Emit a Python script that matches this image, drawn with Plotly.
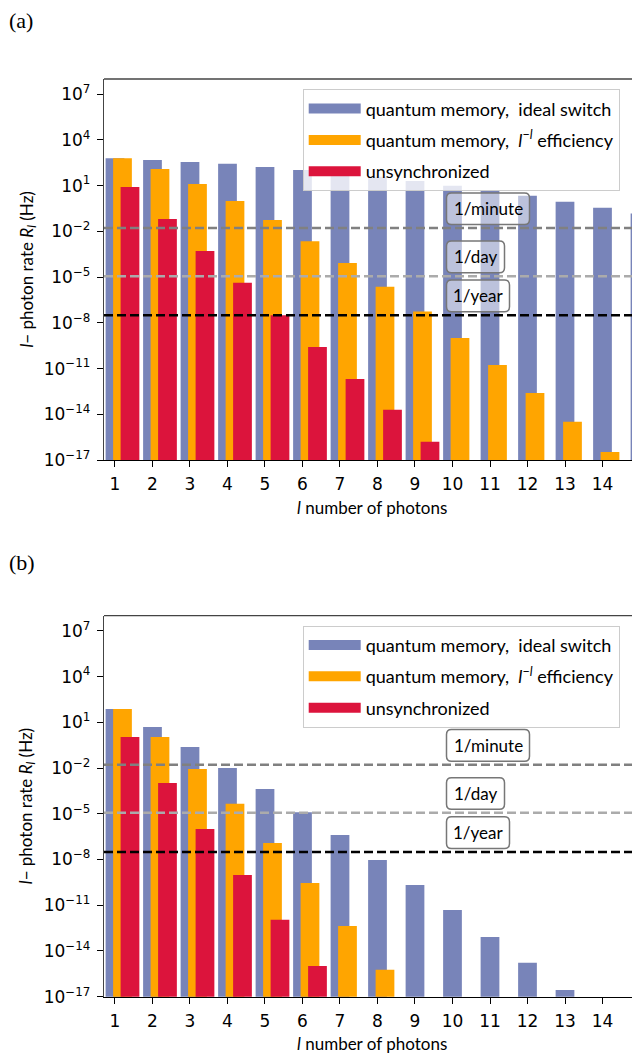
import numpy as np
import plotly.graph_objects as go

# ---------------- data ----------------
photons = list(range(1, 16))
tick_photons = list(range(1, 15))

# panel (a): l-photon rate R_l in Hz
ideal_a = [6.3e2, 4.9e2, 3.6e2, 2.7e2, 1.7e2, 1.07e2, 5.9e1, 3.9e1, 2.0e1, 1.0e1,
           4.7e0, 2.2e0, 8.9e-1, 3.6e-1, 1.5e-1]
eff_a = [6.3e2, 1.26e2, 1.29e1, 1.0e0, 5.6e-2, 2.3e-3, 8.5e-5, 2.3e-6, 5.5e-8, 1.0e-9,
         1.7e-11, 2.5e-13, 3.2e-15, 3.4e-17]
unsync_a = [8.3e0, 6.6e-2, 5.2e-4, 4.2e-6, 3.2e-8, 2.6e-10, 2.1e-12, 1.95e-14, 1.55e-16]

# panel (b)
ideal_b = [7.6e1, 5.0e0, 2.45e-1, 1.02e-2, 4.3e-4, 1.26e-5, 4.1e-7, 9.3e-9, 2.1e-10,
           4.9e-12, 8.3e-14, 1.66e-15, 2.75e-17]
eff_b = [7.6e1, 1.1e0, 8.7e-3, 4.5e-5, 1.23e-7, 2.9e-10, 4.4e-13, 5.8e-16]
unsync_b = [1.1e0, 1.07e-3, 1.02e-6, 9.8e-10, 1.1e-12, 1.05e-15]

# reference rates
ref_names = ["1/minute", "1/day", "1/year"]
ref_rates = [1 / 60, 1 / 86400, 1 / (365 * 86400)]
ref_colors = ["#808080", "#ababab", "#000000"]
ref_box_widths = [83, 58, 63]   # label box widths in px

series_names = ["quantum memory,&nbsp;&nbsp;ideal switch",
                "quantum memory,&nbsp;&nbsp;<i>l</i><sup>−<i>l</i></sup> efficiency",
                "unsynchronized"]
series_colors = ["#7884B9", "#FFA500", "#DC143C"]
series_offsets = [-0.25, -0.05, 0.15]

y_exps = list(range(-17, 8, 3))
YRANGE = [-17, 8]

# ---------------- figure ----------------
# the page body has an 8px margin, so the figure is drawn 8px right/down
OFF = 8
W, H = 640 - OFF, 1053 - OFF


def px_x(p):
    return (p - OFF) / W


def px_y(p):
    return 1 - (p - OFF) / H


def rounded_box(x0, y0, x1, y1, r):
    return (f"M{x0 + r},{y0} H{x1 - r} Q{x1},{y0} {x1},{y0 + r} "
            f"V{y1 - r} Q{x1},{y1} {x1 - r},{y1} H{x0 + r} "
            f"Q{x0},{y1} {x0},{y1 - r} V{y0 + r} Q{x0},{y0} {x0 + r},{y0} Z")


XRANGE = [0.707, 15.0]
fig = go.Figure()

panels = [
    ("x", "y", "legend", [ideal_a, eff_a, unsync_a]),
    ("x2", "y2", "legend2", [ideal_b, eff_b, unsync_b]),
]

for xref, yref, leg, series in panels:
    for i, vals in enumerate(series):
        fig.add_trace(go.Bar(
            x=photons[:len(vals)], y=vals, width=0.5, offset=series_offsets[i],
            marker=dict(color=series_colors[i], line=dict(width=0)),
            name=series_names[i], xaxis=xref, yaxis=yref, showlegend=False,
            legendgroup=f"{leg}{i}",
        ))
    for name, rate, col in zip(ref_names, ref_rates, ref_colors):
        fig.add_trace(go.Scatter(
            x=XRANGE, y=[rate, rate], mode="lines",
            line=dict(color=col, width=2.5, dash="9px,4px"),
            showlegend=False, hoverinfo="skip", xaxis=xref, yaxis=yref,
        ))
    # legend entries (wide rectangular swatches)
    for i in range(3):
        fig.add_trace(go.Scatter(
            x=[None], y=[None], mode="lines", name=series_names[i],
            line=dict(color=series_colors[i], width=13),
            xaxis=xref, yaxis=yref, legend=leg, legendgroup=f"{leg}{i}",
            hoverinfo="skip",
        ))

tickfont = dict(family="DejaVu Sans", size=17, color="black")
labfont = dict(family="Lato", size=17, color="black")
legfont = dict(family="Lato", size=18, color="black")

domains_y = [[px_y(460), px_y(79)], [px_y(996.7), px_y(615.7)]]

common_x = dict(
    range=XRANGE, tickmode="array", tickvals=tick_photons,
    ticktext=[str(v) for v in tick_photons], ticks="outside", ticklen=6,
    tickwidth=1, tickcolor="black", showline=True, linecolor="black",
    linewidth=1, showgrid=False, zeroline=False, tickfont=tickfont,
    ticklabelstandoff=3, domain=[px_x(104), 1.0],
)
common_y = dict(
    type="log", range=YRANGE, tickmode="array",
    tickvals=[10.0 ** e for e in y_exps],
    ticktext=[f"10<sup>{str(e).replace('-', '−')}</sup>" for e in y_exps],
    ticks="outside", ticklen=6, tickwidth=1, tickcolor="black",
    showline=True, linecolor="#444444", linewidth=1.3, showgrid=False,
    zeroline=False, tickfont=tickfont, ticklabelstandoff=3,
)

fig.update_layout(
    width=W, height=H,
    margin=dict(l=0, r=0, t=0, b=0, autoexpand=False),
    plot_bgcolor="white", paper_bgcolor="white", barmode="overlay",
    xaxis=dict(common_x, anchor="y"),
    yaxis=dict(common_y, anchor="x", domain=domains_y[0]),
    xaxis2=dict(common_x, anchor="y2"),
    yaxis2=dict(common_y, anchor="x2", domain=domains_y[1]),
)

legend_tops = [89.3, 625.7]
for leg, top in zip(["legend", "legend2"], legend_tops):
    fig.update_layout({leg: dict(
        x=px_x(302.7), xanchor="left", y=px_y(top), yanchor="top",
        bgcolor="rgba(255,255,255,0.8)", bordercolor="#cccccc", borderwidth=1,
        font=legfont, itemwidth=52, tracegroupgap=5, traceorder="grouped",
    )})

# top spines
for xr, yr in [("x", "y"), ("x2", "y2")]:
    fig.add_shape(type="line", xref=f"{xr} domain", yref=f"{yr} domain",
                  x0=0, x1=1, y0=1, y1=1, line=dict(color="#444444", width=1.3))

# reference labels (rounded boxes), axis titles, panel letters
BOX_GAP, BOX_H, BOX_SHIFT = 3.5, 31.6, -6
for xr, yr in [("x", "y"), ("x2", "y2")]:
    for name, rate, bw in zip(ref_names, ref_rates, ref_box_widths):
        frac = (np.log10(rate) - YRANGE[0]) / (YRANGE[1] - YRANGE[0])
        fig.add_shape(
            type="path", xref=xr, yref=f"{yr} domain",
            xsizemode="pixel", ysizemode="pixel", xanchor=10, yanchor=frac,
            path=rounded_box(BOX_SHIFT, BOX_GAP, BOX_SHIFT + bw,
                             BOX_GAP + BOX_H, 5),
            fillcolor="rgba(255,255,255,0.5)",
            line=dict(color="#777777", width=1.5), layer="above",
        )
        fig.add_annotation(
            x=10, y=frac, xref=xr, yref=f"{yr} domain", text=name,
            xanchor="center", yanchor="middle",
            xshift=BOX_SHIFT + bw / 2, yshift=BOX_GAP + BOX_H / 2,
            showarrow=False, font=labfont,
        )
    fig.add_annotation(
        x=0.5, y=0, xref=f"{xr} domain", yref=f"{yr} domain",
        text="<i>l</i> number of photons", showarrow=False, yshift=-47,
        yanchor="middle", font=labfont,
    )
    fig.add_annotation(
        x=px_x(27), y=0.5, xref="paper", yref=f"{yr} domain",
        text="<i>l</i>− photon rate <i>R<sub>l</sub></i> (Hz)", textangle=-90,
        showarrow=False, xanchor="center", yanchor="middle", font=labfont,
    )

for lab, ypx in [("(a)", 20), ("(b)", 562)]:
    fig.add_annotation(
        x=px_x(7), y=px_y(ypx), xref="paper", yref="paper", text=lab,
        showarrow=False, xanchor="left", yanchor="middle",
        font=dict(family="Liberation Serif", size=22, color="black"),
    )

fig.write_html("out.html")
